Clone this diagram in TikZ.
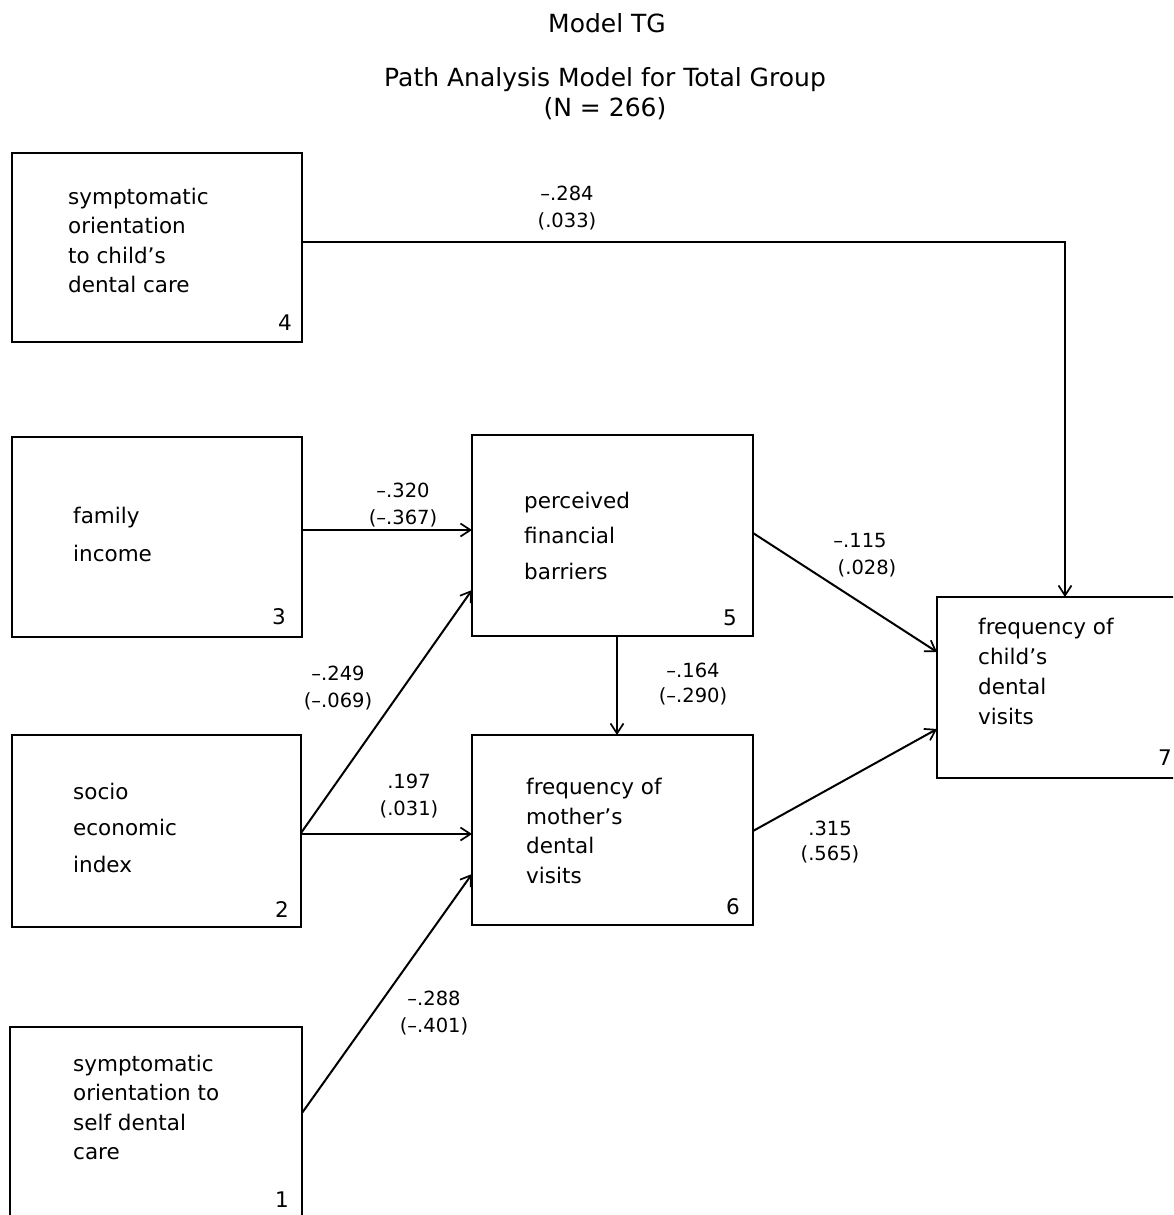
\documentclass[tikz,border=0pt]{standalone}
\usepackage{fontspec}
\setmainfont{DejaVu Sans}
\usetikzlibrary{arrows.meta}
\begin{document}
\begin{tikzpicture}[x=1pt,y=-1pt,
  boxst/.style={draw, line width=2.6pt, inner sep=0pt, outer sep=0pt, rectangle},
  btext/.style={inner sep=0pt, anchor=base west, font=\fontsize{21.5}{26}\selectfont},
  bnum/.style={inner sep=0pt, anchor=center, font=\fontsize{21.5}{26}\selectfont},
  lab/.style={inner sep=0pt, align=center, font=\fontsize{19.5}{27}\selectfont},
  ttl/.style={inner sep=0pt, font=\fontsize{25}{30}\selectfont},
  conn/.style={line width=2pt, -{Straight Barb[length=10pt,width=13pt,line width=1.7pt]}}]
\useasboundingbox (0,0) rectangle (1173,1215);
\fill[white] (0,0) rectangle (1173,1215);
\begin{scope}
\clip (0,0) rectangle (1173,1215);
% titles
\node[ttl] (title1) at (607,23) {Model TG};
\node[ttl] (title2) at (605,79.5) {Path Analysis Model for Total Group};
\node[ttl] (title3) at (605,109) {(N = 266)};
% boxes
\node[boxst, minimum width=290pt, minimum height=189pt] (b4) at (157,247.5) {};
\node[boxst, minimum width=290pt, minimum height=200pt] (b3) at (157,537) {};
\node[boxst, minimum width=289pt, minimum height=192pt] (b2) at (156.5,831) {};
\node[boxst, minimum width=292pt, minimum height=203pt] (b1) at (156,1128.5) {};
\node[boxst, minimum width=281pt, minimum height=201pt] (b5) at (612.5,535.5) {};
\node[boxst, minimum width=281pt, minimum height=190pt] (b6) at (612.5,830) {};
\node[boxst, minimum width=248pt, minimum height=181pt] (b7) at (1061,687.5) {};
% box texts
\node[btext] (t4a) at (68,204) {symptomatic};
\node[btext] (t4b) at (68,233.5) {orientation};
\node[btext] (t4c) at (68,263) {to child's};
\node[btext] (t4d) at (68,292.5) {dental care};
\node[bnum] (n4) at (285,323) {4};
\node[btext] (t3a) at (73,523) {family};
\node[btext] (t3b) at (73,561) {income};
\node[bnum] (n3) at (279,617) {3};
\node[btext] (t2a) at (73,799) {socio};
\node[btext] (t2b) at (73,835.5) {economic};
\node[btext] (t2c) at (73,872) {index};
\node[bnum] (n2) at (282,910) {2};
\node[btext] (t1a) at (73,1071) {symptomatic};
\node[btext] (t1b) at (73,1100.5) {orientation to};
\node[btext] (t1c) at (73,1130) {self dental};
\node[btext] (t1d) at (73,1159.5) {care};
\node[bnum] (n1) at (282,1200) {1};
\node[btext] (t5a) at (524,508) {perceived};
\node[btext] (t5b) at (524,543.5) {financial};
\node[btext] (t5c) at (524,579) {barriers};
\node[bnum] (n5) at (730,618) {5};
\node[btext] (t6a) at (526,794) {frequency of};
\node[btext] (t6b) at (526,824) {mother's};
\node[btext] (t6c) at (526,853.5) {dental};
\node[btext] (t6d) at (526,883) {visits};
\node[bnum] (n6) at (733,907) {6};
\node[btext] (t7a) at (978,634) {frequency of};
\node[btext] (t7b) at (978,664) {child's};
\node[btext] (t7c) at (978,694) {dental};
\node[btext] (t7d) at (978,724) {visits};
\node[bnum] (n7) at (1165,758) {7};
% connectors
\draw[conn] ([yshift=5.5pt]b4.east) -| ([xshift=4pt]b7.north);
\draw[conn] ([yshift=7pt]b3.east) -- ([yshift=5.5pt]b5.west);
\draw[conn] ([yshift=-2pt]b2.east) -- ([yshift=-54.5pt]b5.west);
\draw[conn] ([yshift=-3pt]b2.east) -- ([yshift=-4pt]b6.west);
\draw[conn] ([yshift=15.5pt]b1.east) -- ([yshift=-44pt]b6.west);
\draw[conn] ([xshift=4.5pt]b5.south) -- ([xshift=4.5pt]b6.north);
\draw[conn] ([yshift=2.5pt]b5.east) -- ([yshift=35.5pt]b7.west);
\draw[conn] ([yshift=-1pt]b6.east) -- ([yshift=-41.5pt]b7.west);
% path coefficients
\node[lab] (l47) at (567,208.5) {–.284\\(.033)};
\node[lab] (l35) at (403,505.5) {–.320\\(–.367)};
\node[lab] (l25) at (338,688.5) {–.249\\(–.069)};
\node[lab, font=\fontsize{19.5}{25}\selectfont] (l56) at (693,684.5) {–.164\\(–.290)};
\node[lab] (l57) at (860,555) {–.115\\\hspace*{14pt}(.028)};
\node[lab] (l26) at (409,796.5) {.197\\(.031)};
\node[lab] (l16) at (434,1013) {–.288\\(–.401)};
\node[lab, font=\fontsize{19.5}{25}\selectfont] (l67) at (830,842.5) {.315\\(.565)};
\end{scope}
\end{tikzpicture}
\end{document}
